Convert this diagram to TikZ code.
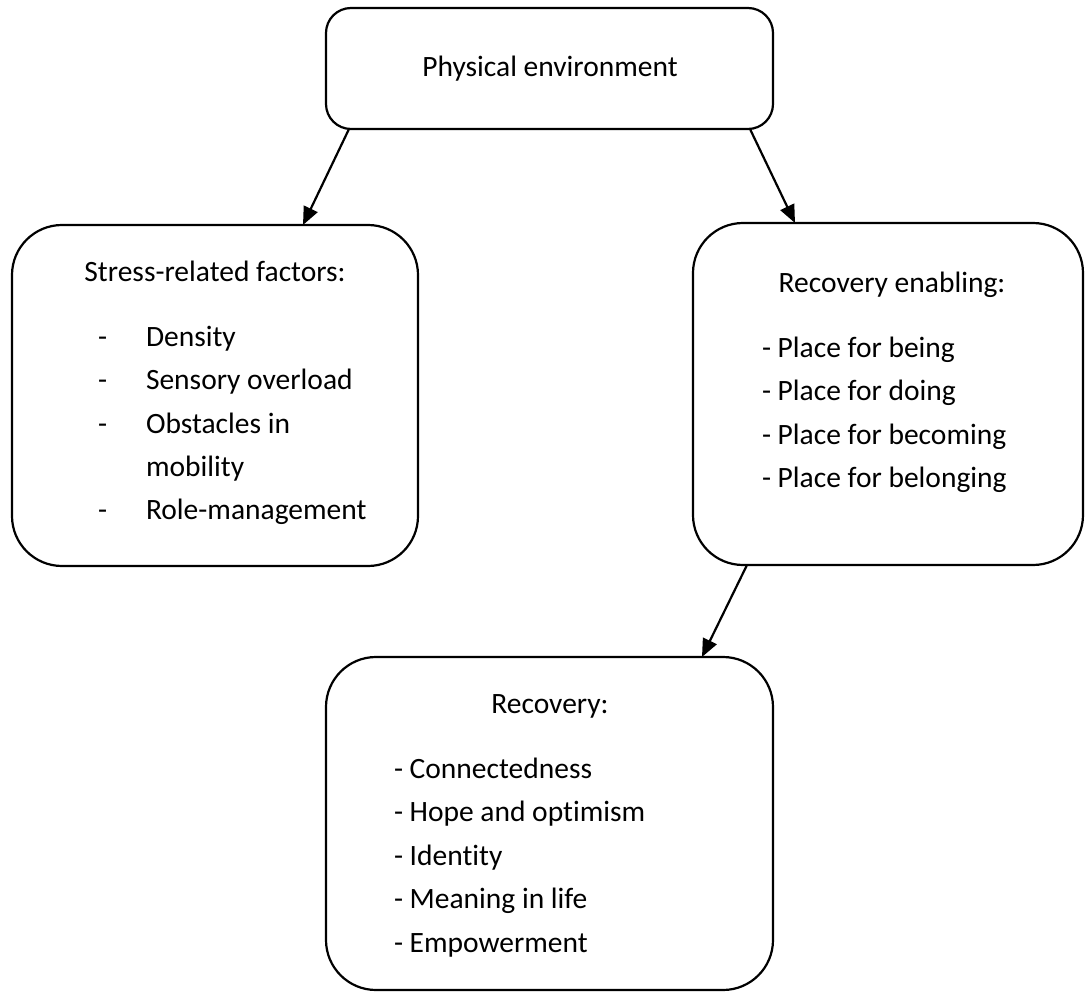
\documentclass[tikz,border=0pt]{standalone}
\usepackage{fontspec}
\setmainfont[Ligatures=NoCommon]{Carlito}
\usetikzlibrary{arrows.meta}
\tikzset{
  box/.style={draw=black, line width=2.2pt, inner sep=0pt, outer sep=0pt, fill=white},
  txt/.style={anchor=base west, inner sep=0pt, outer sep=0pt, font=\fontsize{29.5}{34}\selectfont},
  ctxt/.style={anchor=base, inner sep=0pt, outer sep=0pt, font=\fontsize{29.5}{34}\selectfont},
  arr/.style={line width=2.2pt, -{Triangle[length=18pt,width=15pt]}}
}
\begin{document}
\begin{tikzpicture}[x=1pt,y=-1pt]
\useasboundingbox[fill=white] (0,0) rectangle (1085,992);
% boxes
\node[box, rounded corners=25pt, minimum width=447pt, minimum height=121pt] (top) at (549.5,68.5) {};
\node[box, rounded corners=50pt, minimum width=406pt, minimum height=341pt] (left) at (215,395.5) {};
\node[box, rounded corners=50pt, minimum width=390pt, minimum height=342pt] (right) at (888,394) {};
\node[box, rounded corners=50pt, minimum width=447pt, minimum height=333pt] (bottom) at (549.5,823.5) {};
% texts
\node[ctxt] (t0) at (550,77) {Physical environment};
\node[ctxt] (l0) at (215,282) {Stress-related factors:};
\node[txt] (l1d) at (98,347) {-};
\node[txt] (l1) at (146,347) {Density};
\node[txt] (l2d) at (98,390) {-};
\node[txt] (l2) at (146,390) {Sensory overload};
\node[txt] (l3d) at (98,433) {-};
\node[txt] (l3) at (146,433) {Obstacles in};
\node[txt] (l4) at (146,476) {mobility};
\node[txt] (l5d) at (98,519) {-};
\node[txt] (l5) at (146,519) {Role-management};
\node[ctxt] (r0) at (892,293) {Recovery enabling:};
\node[txt] (r1) at (762,358) {- Place for being};
\node[txt] (r2) at (762,401) {- Place for doing};
\node[txt] (r3) at (762,444) {- Place for becoming};
\node[txt] (r4) at (762,487) {- Place for belonging};
\node[ctxt] (b0) at (550,713) {Recovery:};
\node[txt] (b1) at (394,778) {- Connectedness};
\node[txt] (b2) at (394,821.5) {- Hope and optimism};
\node[txt] (b3) at (394,865) {- Identity};
\node[txt] (b4) at (394,908.5) {- Meaning in life};
\node[txt] (b5) at (394,952) {- Empowerment};
% arrows
\draw[arr] ([xshift=23pt]top.south west) -- ([xshift=291pt]left.north west);
\draw[arr] ([xshift=-23pt]top.south east) -- ([xshift=102pt]right.north west);
\draw[arr] ([xshift=54pt]right.south west) -- ([xshift=376pt]bottom.north west);
\end{tikzpicture}
\end{document}
